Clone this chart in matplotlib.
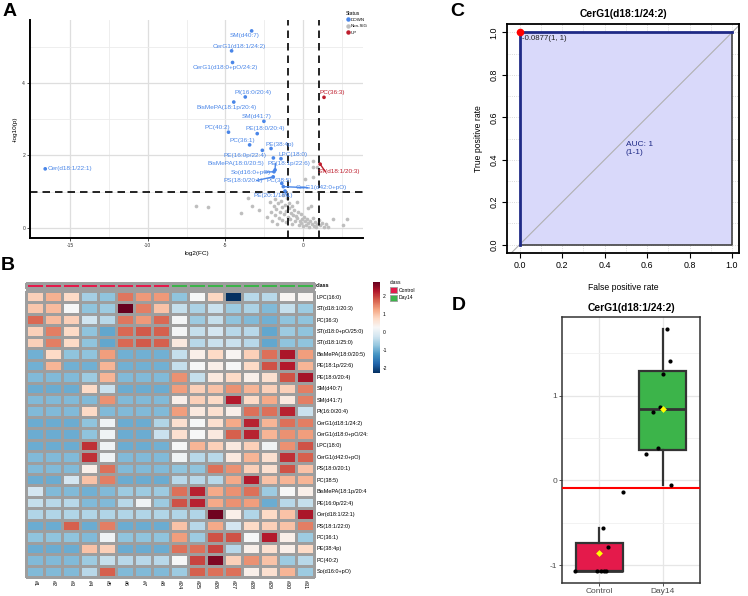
import numpy as np
import matplotlib
matplotlib.use('Agg')
import matplotlib.pyplot as plt
from matplotlib.colors import ListedColormap
from matplotlib.patches import Rectangle
from matplotlib.lines import Line2D

plt.rcParams['font.family'] = ['Liberation Sans', 'DejaVu Sans']
plt.rcParams['axes.unicode_minus'] = False

W, H = 748, 596

# ---------------- data ----------------
# volcano: significant features
sig_names = ['SM(d40:7)', 'CerG1(d18:1/24:2)', 'CerG1(d18:0+pO/24:2)', 'PI(16:0/20:4)',
             'BisMePA(18:1p/20:4)', 'SM(d41:7)', 'PC(40:2)', 'PE(18:0/20:4)', 'PC(36:1)',
             'PE(38:4p)', 'PE(16:0p/22:4)', 'LPC(18:0)', 'BisMePA(18:0/20:5)', 'PE(18:1p/22:6)',
             'So(d16:0+pO)', 'PS(18:0/20:1)', 'PC(38:5)', 'CerG1(d42:0+pO)', 'PE(20:1/18:1)',
             'Cer(d18:1/22:1)', 'PC(36:3)', 'ST(d18:1/20:3)']
sig_fc = [-3.31, -4.60, -4.54, -3.72, -4.46, -2.52, -4.80, -2.95, -3.44, -2.06, -2.62, -1.42,
          -1.91, -1.80, -1.87, -1.92, -1.37, -1.27, -1.16, -16.6, 1.35, 1.10]
sig_logp = [5.43, 4.88, 4.56, 3.61, 3.47, 2.94, 2.64, 2.60, 2.29, 2.19, 2.14, 1.91,
            1.93, 1.60, 1.55, 1.41, 1.23, 1.14, 1.02, 1.63, 3.60, 1.76]
sig_status = ['DOWN'] * 20 + ['UP', 'UP']

ns_fc = [-6.92, -6.11, -4.02, -3.57, -3.27, -2.82, -2.35, -2.12, -2.05, -1.98, -1.90, -1.83,
         -1.78, -1.71, -1.66, -1.60, -1.55, -1.49, -1.44, -1.38, -1.33, -1.29, -1.24, -1.19,
         -1.12, -1.08, -1.02, -0.97, -0.93, -0.88, -0.84, -0.78, -0.73, -0.69, -0.64, -0.58,
         -0.52, -0.47, -0.41, -0.36, -0.30, -0.26, -0.21, -0.16, -0.10, -0.05, 0.02, 0.08,
         0.14, 0.21, 0.27, 0.33, 0.41, 0.47, 0.55, 0.62, 0.70, 0.78, 0.86, 0.93, 1.02, 1.10,
         1.21, 1.33, 1.48, 1.62, 1.91, 2.56, 2.80, 0.15, 0.62, 0.67, 0.65, 0.90, 0.50, 0.30]
ns_logp = [0.61, 0.59, 0.42, 0.82, 0.61, 0.51, 0.30, 0.72, 0.45, 0.20, 0.62, 0.35,
           0.80, 0.52, 0.12, 0.68, 0.28, 0.43, 0.75, 0.58, 0.22, 0.90, 0.38, 0.64,
           0.48, 0.16, 0.83, 0.31, 0.55, 0.70, 0.25, 0.42, 0.61, 0.10, 0.36, 0.50,
           0.19, 0.33, 0.72, 0.27, 0.45, 0.08, 0.20, 0.38, 0.14, 0.26, 0.05, 0.31,
           0.18, 0.09, 0.24, 0.13, 0.04, 0.20, 0.11, 0.28, 0.06, 0.17, 0.02, 0.12, 0.22, 0.08,
           0.15, 0.04, 0.10, 0.03, 0.25, 0.07, 0.25, 1.36, 1.84, 1.68, 1.41, 1.69, 0.62, 0.55]

# heatmap
heat_rows = ['LPC(16:0)', 'ST(d18:1/20:3)', 'PC(36:3)', 'ST(d18:0+pO/25:0)', 'ST(d18:1/25:0)',
             'BisMePA(18:0/20:5)', 'PE(18:1p/22:6)', 'PE(18:0/20:4)', 'SM(d40:7)', 'SM(d41:7)',
             'PI(16:0/20:4)', 'CerG1(d18:1/24:2)', 'CerG1(d18:0+pO/24:', 'LPC(18:0)',
             'CerG1(d42:0+pO)', 'PS(18:0/20:1)', 'PC(38:5)', 'BisMePA(18:1p/20:4', 'PE(16:0p/22:4)',
             'Cer(d18:1/22:1)', 'PS(18:1/22:0)', 'PC(36:1)', 'PE(38:4p)', 'PC(40:2)', 'So(d16:0+pO)']
heat_cols = ['#1', '#2', '#3', '#4', '#5', '#6', '#7', '#8',
             '#24', '#25', '#26', '#27', '#28', '#29', '#30', '#31']
heat_class = ['Control'] * 8 + ['Day14'] * 8
heat_vals = [
    [0.85, 1.15, 0.75, -0.6, -0.75, 1.6, 1.35, 1.35, -0.75, 0.25, 0.8, -2.26, -0.45, -0.45, 0.3, 0.3],
    [0.95, 1.05, 0.25, -0.75, -0.65, 2.77, 1.55, 1.0, -0.35, -0.55, -0.3, -0.65, -0.55, -0.85, -0.35, -0.65],
    [1.7, 1.05, 0.85, -0.25, -0.45, 1.6, 1.35, 1.7, 0.2, -0.65, -0.35, -0.75, -0.85, -0.95, -0.75, -0.75],
    [0.85, 1.55, 0.75, -0.75, -1.05, 1.7, 1.8, 1.75, 0.2, -0.35, -0.2, -0.45, -0.45, -1.05, -0.65, -0.75],
    [0.85, 1.55, 0.75, -0.75, -1.05, 1.7, 1.8, 1.75, 0.5, -0.45, -0.3, -0.3, -0.45, -1.05, -0.75, -0.75],
    [-0.95, 0.75, -0.75, -0.75, 1.3, -0.95, -0.95, -0.95, -0.35, 0.4, 0.75, 0.3, 0.85, 1.65, 2.3, 1.3],
    [-0.95, 1.1, -0.95, -0.95, 1.1, -0.95, -0.95, -0.95, -0.35, 0.25, 0.4, 0.25, 0.75, 1.85, 2.25, 1.1],
    [-0.85, -0.85, -0.85, -0.65, 1.1, -0.85, -0.85, -0.85, 1.4, -0.35, 0.5, 0.75, 0.4, 0.65, 1.85, 2.35],
    [-1.0, -1.0, -1.0, 0.75, -0.3, -1.0, -1.0, -1.0, 1.3, 0.85, 1.0, 1.4, 1.1, 0.85, 0.85, 1.55],
    [-0.85, -0.85, -0.85, -0.85, 1.4, -0.85, -0.85, -0.85, 0.4, 0.85, 0.75, 2.25, 0.75, 1.2, 0.5, 1.55],
    [-0.85, -0.85, -0.85, 0.75, -0.85, -0.85, -0.85, -0.85, 1.3, 0.5, 0.65, 0.4, 1.65, 1.65, 2.2, -0.3],
    [-1.0, -1.0, -1.0, -0.75, 0.15, -1.0, -1.0, -0.5, 0.65, 0.25, 0.65, 1.2, 2.2, 1.1, 1.65, 1.55],
    [-1.0, -1.0, -1.0, -0.75, 0.15, -1.0, -1.0, -0.3, 0.65, 0.25, 0.5, 1.75, 2.2, 1.1, 1.4, 1.3],
    [-1.0, -1.0, -1.0, 2.1, 0.15, -1.0, -1.0, -0.95, 0.25, 1.1, 0.85, 0.5, 0.85, 0.15, 1.4, 1.85],
    [-0.85, -0.85, -0.85, 2.1, 0.15, -0.85, -0.85, -0.85, 0.15, -0.45, -0.45, 0.5, 1.1, 0.65, 2.1, 1.75],
    [-0.85, -0.85, -0.85, 0.4, 1.65, -0.85, -0.85, -0.85, -0.75, -0.75, 1.65, 1.4, 0.85, 0.65, 1.85, 1.0],
    [-1.0, -1.0, -0.2, 1.0, 1.55, -1.0, -1.0, -1.0, -0.45, -0.45, -0.45, 1.2, 2.25, 1.0, 1.1, 1.1],
    [-0.2, -0.85, -0.85, -0.95, -0.85, -0.65, -0.65, -0.65, 1.65, 2.2, 1.2, 1.4, 1.65, -0.65, 0.25, 0.4],
    [-0.35, -0.45, -0.45, -0.85, -0.85, -0.45, 0.15, -0.65, 1.85, 2.2, 1.2, 1.4, 1.3, -1.0, -0.45, -0.35],
    [-0.5, -0.5, -0.5, -0.5, -0.5, -0.5, -0.5, -0.5, -0.5, -0.5, 2.7, 0.4, -0.5, 0.75, 1.0, 2.3],
    [-1.0, -1.0, 1.75, -1.0, 1.55, -1.0, -1.0, -1.0, 1.0, -0.45, 1.2, -0.2, 0.75, 0.85, 1.0, 1.55],
    [-0.75, -0.75, -0.75, -0.85, 0.15, -0.75, -0.75, -0.75, 1.3, -0.65, 1.85, 1.85, 0.25, 2.25, 0.4, -0.65],
    [-1.0, -1.0, -1.0, 1.0, 0.85, -1.0, -1.0, -1.0, 1.65, 1.65, 1.95, -0.45, 0.4, 0.65, 0.4, 0.75],
    [-0.85, -0.85, -0.85, -0.65, -0.35, -0.45, -0.45, -0.45, 0.25, 1.95, 2.6, 0.85, 1.4, 1.0, -0.65, -0.45],
    [-0.85, -0.85, -0.85, -0.45, 1.75, -0.85, -0.85, -0.85, -0.65, 1.75, 1.65, 1.65, 0.4, 0.65, 1.1, -0.65],
]

# ROC
roc_fpr = [0.0, 0.0, 1.0]
roc_tpr = [0.0, 1.0, 1.0]
roc_cut = -0.0877

# box plot
groups = ['Control', 'Day14']
ctrl_vals = [-1.07, -1.07, -1.07, -1.07, -1.07, -0.79, -0.56, -0.13]
day_vals = [-0.05, 0.31, 0.38, 0.81, 0.87, 1.26, 1.41, 1.79]
ctrl_jit = [-0.38, -0.03, 0.02, 0.08, 0.11, 0.13, 0.06, 0.37]
day_jit = [0.13, -0.26, -0.08, -0.15, -0.04, 0.00, 0.11, 0.07]

RED_C = '#E41A4B'
GREEN_C = '#3CB44A'
BLUE = '#4A86E8'
DARKRED = '#BE1E2D'


def box(l, t, r, b):
    return [l / W, 1 - b / H, (r - l) / W, (b - t) / H]


fig = plt.figure(figsize=(W / 100, H / 100), dpi=100)

# ---------------- A: volcano ----------------
axA = fig.add_axes(box(30, 20, 363, 238))
axA.set_xlim(-17.58, 3.86)
axA.set_ylim(-0.275, 5.73)
axA.set_xticks([-15, -10, -5, 0])
axA.set_yticks([0, 2, 4])
axA.set_xticks([-12.5, -7.5, -2.5, 2.5], minor=True)
axA.set_yticks([1, 3, 5], minor=True)
axA.grid(which='major', color='#dedede', lw=0.9)
axA.grid(which='minor', color='#ebebeb', lw=0.6)
axA.set_axisbelow(True)
for s in ['top', 'right']:
    axA.spines[s].set_visible(False)
for s in ['left', 'bottom']:
    axA.spines[s].set_linewidth(1.4)
axA.tick_params(which='major', labelsize=3.6, length=2, width=0.6, colors='#333333', pad=1.5)
axA.tick_params(which='minor', length=0)
axA.set_xlabel('log2(FC)', fontsize=4.6, labelpad=2)
axA.set_ylabel('-log10(p)', fontsize=4.6, labelpad=3)

axA.scatter(ns_fc, ns_logp, s=7, color='#BEBEBE', lw=0, zorder=2)
sig_cols = [BLUE if st == 'DOWN' else DARKRED for st in sig_status]
axA.scatter(sig_fc, sig_logp, s=7, c=sig_cols, lw=0, zorder=4)

dash = (0, (4.5, 3))
axA.axvline(-1, color='black', ls=dash, lw=1.2, zorder=3)
axA.axvline(1, color='black', ls=dash, lw=1.2, zorder=3)
axA.axhline(1, color='black', ls=dash, lw=1.2, zorder=3)

# label placement (repel-like)
lab_x = [-3.78, -4.12, -5.0, -3.24, -4.91, -2.98, -5.49, -2.45, -3.88, -1.48, -3.73, -0.66,
         -4.31, -0.88, -3.35, -3.88, -1.53, 1.2, -1.95, -15.0, 1.85, 2.34]
lab_y = [5.29, 5.0, 4.42, 3.73, 3.33, 3.07, 2.76, 2.73, 2.42, 2.31, 2.01, 2.03,
         1.77, 1.78, 1.54, 1.31, 1.31, 1.11, 0.89, 1.63, 3.73, 1.55]
seg = ['PE(18:1p/22:6)', 'So(d16:0+pO)', 'PS(18:0/20:1)', 'CerG1(d42:0+pO)', 'ST(d18:1/20:3)',
       'PE(20:1/18:1)']
for nm, fx, py, lx, ly, c in zip(sig_names, sig_fc, sig_logp, lab_x, lab_y, sig_cols):
    if nm in seg:
        axA.plot([fx, lx - 0.9 if lx > fx else lx + 0.9], [py, ly], color=c, lw=1.0, zorder=3)
    axA.text(lx, ly, nm, color=c, fontsize=4.6, ha='center', va='center', zorder=5)

hand = [Line2D([], [], marker='o', ls='', color=c, ms=2.2) for c in [BLUE, '#BEBEBE', DARKRED]]
leg = fig.legend(hand, ['DOWN', 'Non-SIG', 'UP'], title='Status', loc='upper left',
                 bbox_to_anchor=(343 / W, 1 - 8 / H), frameon=False, fontsize=3.2,
                 title_fontsize=3.6, handletextpad=0.2, labelspacing=0.5, handlelength=1.0,
                 borderpad=0.1)
leg._legend_box.align = 'left'

# ---------------- B: heatmap ----------------
cmap = plt.get_cmap('RdBu_r')
axB = fig.add_axes(box(26, 291, 314, 577))
mesh = axB.pcolormesh(np.array(heat_vals), cmap=cmap, vmin=-2.26, vmax=2.77,
                      edgecolors='#9e9e9e', linewidth=0.9)
mesh.set_clip_on(False)
axB.set_xlim(0, len(heat_cols))
axB.set_ylim(len(heat_rows), 0)
for s in axB.spines.values():
    s.set_visible(False)
axB.yaxis.tick_right()
axB.set_yticks(np.arange(len(heat_rows)) + 0.5)
axB.set_yticklabels(heat_rows, fontsize=4.0)
axB.set_xticks(np.arange(len(heat_cols)) + 0.5)
axB.set_xticklabels(heat_cols, fontsize=4.0, rotation=-90)
axB.tick_params(length=0, pad=2)

axCls = fig.add_axes(box(26, 283, 314, 288))
cls_idx = np.array([[groups.index(c) for c in heat_class]])
cm2 = axCls.pcolormesh(cls_idx, cmap=ListedColormap([RED_C, GREEN_C]), vmin=0, vmax=1,
                       edgecolors='#9e9e9e', linewidth=0.9)
cm2.set_clip_on(False)
axCls.set_xlim(0, len(heat_cols))
axCls.set_ylim(1, 0)
axCls.axis('off')
axCls.text(len(heat_cols) + 0.12, 0.5, 'class', fontsize=4.0, fontweight='bold',
           ha='left', va='center')

axCb = fig.add_axes(box(373, 282, 380, 373))
cb = fig.colorbar(mesh, cax=axCb, ticks=[-2, -1, 0, 1, 2])
cb.outline.set_visible(False)
axCb.tick_params(labelsize=3.6, length=0, pad=2)

# overlay for letters and class legend (pixel coords)
ov = fig.add_axes([0, 0, 1, 1], zorder=10)
ov.set_xlim(0, W)
ov.set_ylim(H, 0)
ov.axis('off')
ov.patch.set_alpha(0)
ov.text(390, 283, 'class', fontsize=3.6, ha='left', va='center')
ov.add_patch(Rectangle((390, 287), 7, 6, facecolor=RED_C, edgecolor='#9e9e9e', lw=0.6))
ov.add_patch(Rectangle((390, 295), 7, 6, facecolor=GREEN_C, edgecolor='#9e9e9e', lw=0.6))
ov.text(399, 290, 'Control', fontsize=3.6, ha='left', va='center')
ov.text(399, 298, 'Day14', fontsize=3.6, ha='left', va='center')
for lt, x, y in [('A', 10, 12), ('B', 8, 265), ('C', 457, 12), ('D', 459, 305)]:
    ov.text(x, y, lt, fontsize=14, fontweight='bold', ha='center', va='center')

# ---------------- C: ROC ----------------
axC = fig.add_axes(box(507, 24, 739, 253))
axC.set_xlim(-0.06, 1.033)
axC.set_ylim(-0.04, 1.04)
for v in np.arange(0.0, 1.01, 0.1):
    axC.axvline(v, color='#cfcfcf', ls=':', lw=0.6, zorder=0)
    axC.axhline(v, color='#cfcfcf', ls=':', lw=0.6, zorder=0)
axC.fill_between(roc_fpr + [1.0], roc_tpr + [0.0], 0, color='#D9D9FA', lw=0, zorder=1)
axC.plot([1.0, 1.0, 0.0], [1.0, 0.0, 0.0], color='#444444', lw=1.2, zorder=2)
axC.plot([-0.2, 1.2], [-0.2, 1.2], color='#b0b0b0', lw=0.8, zorder=2)
axC.plot(roc_fpr, roc_tpr, color='#1F2A86', lw=2.0, zorder=3)
axC.scatter([roc_fpr[1]], [roc_tpr[1]], s=20, color='red', zorder=5, clip_on=False)
axC.text(0.012, 0.99, '%.4f(1, 1)' % roc_cut, fontsize=5.6,
         ha='left', va='top', color='#222222')
axC.text(0.5, 0.455, 'AUC: 1\n(1-1)', fontsize=6.0, color='#1F2A86', ha='left', va='center',
         linespacing=1.2)
axC.set_title('CerG1(d18:1/24:2)', fontsize=7.4, fontweight='bold', pad=5)
axC.set_xticks(np.arange(0, 1.01, 0.2))
axC.set_yticks(np.arange(0, 1.01, 0.2))
axC.set_xticklabels(['0.0', '0.2', '0.4', '0.6', '0.8', '1.0'])
axC.set_yticklabels(['0.0', '0.2', '0.4', '0.6', '0.8', '1.0'], rotation=90, va='center')
axC.tick_params(labelsize=6.4, length=3.5, width=0.8, pad=2.5)
for s in axC.spines.values():
    s.set_linewidth(1.3)
axC.set_xlabel('False positive rate', fontsize=6.2, labelpad=9)
axC.set_ylabel('True positive rate', fontsize=6.2, labelpad=5)

# ---------------- D: box plot ----------------
axD = fig.add_axes(box(562, 317, 700, 583))
axD.set_ylim(-1.21, 1.93)
axD.set_yticks([-1, 0, 1])
axD.set_yticks([-0.5, 0.5, 1.5], minor=True)
axD.grid(which='major', color='#e6e6e6', lw=0.9)
axD.grid(which='minor', axis='y', color='#f0f0f0', lw=0.6)
axD.set_axisbelow(True)
bp = axD.boxplot([ctrl_vals, day_vals], positions=[1, 2], widths=0.75, patch_artist=True,
                 showfliers=False, whis=1.5,
                 boxprops=dict(color='#333333', lw=1.6),
                 whiskerprops=dict(color='#333333', lw=1.6),
                 capprops=dict(lw=0),
                 medianprops=dict(color='#333333', lw=2.0))
for patch, c in zip(bp['boxes'], [RED_C, GREEN_C]):
    patch.set_facecolor(c)
axD.set_xlim(0.41, 2.59)
axD.set_xticks([1, 2])
axD.set_xticklabels(groups)
axD.axhline(roc_cut, color='red', lw=1.5, zorder=3)
axD.scatter(np.add(1, ctrl_jit), ctrl_vals, s=9, color='black', zorder=4, lw=0)
axD.scatter(np.add(2, day_jit), day_vals, s=9, color='black', zorder=4, lw=0)
axD.scatter([1, 2], [np.mean(ctrl_vals), np.mean(day_vals)], s=12, marker='D',
            color='yellow', zorder=5, lw=0)
axD.set_title('CerG1(d18:1/24:2)', fontsize=7.4, fontweight='bold', pad=4)
axD.tick_params(which='major', labelsize=6, length=2, width=0.6, colors='#333333',
                labelcolor='#4d4d4d', pad=1.5)
axD.tick_params(which='minor', length=0)
for s in axD.spines.values():
    s.set_color('#333333')
    s.set_linewidth(1.1)

fig.savefig('out.png', dpi=100)
